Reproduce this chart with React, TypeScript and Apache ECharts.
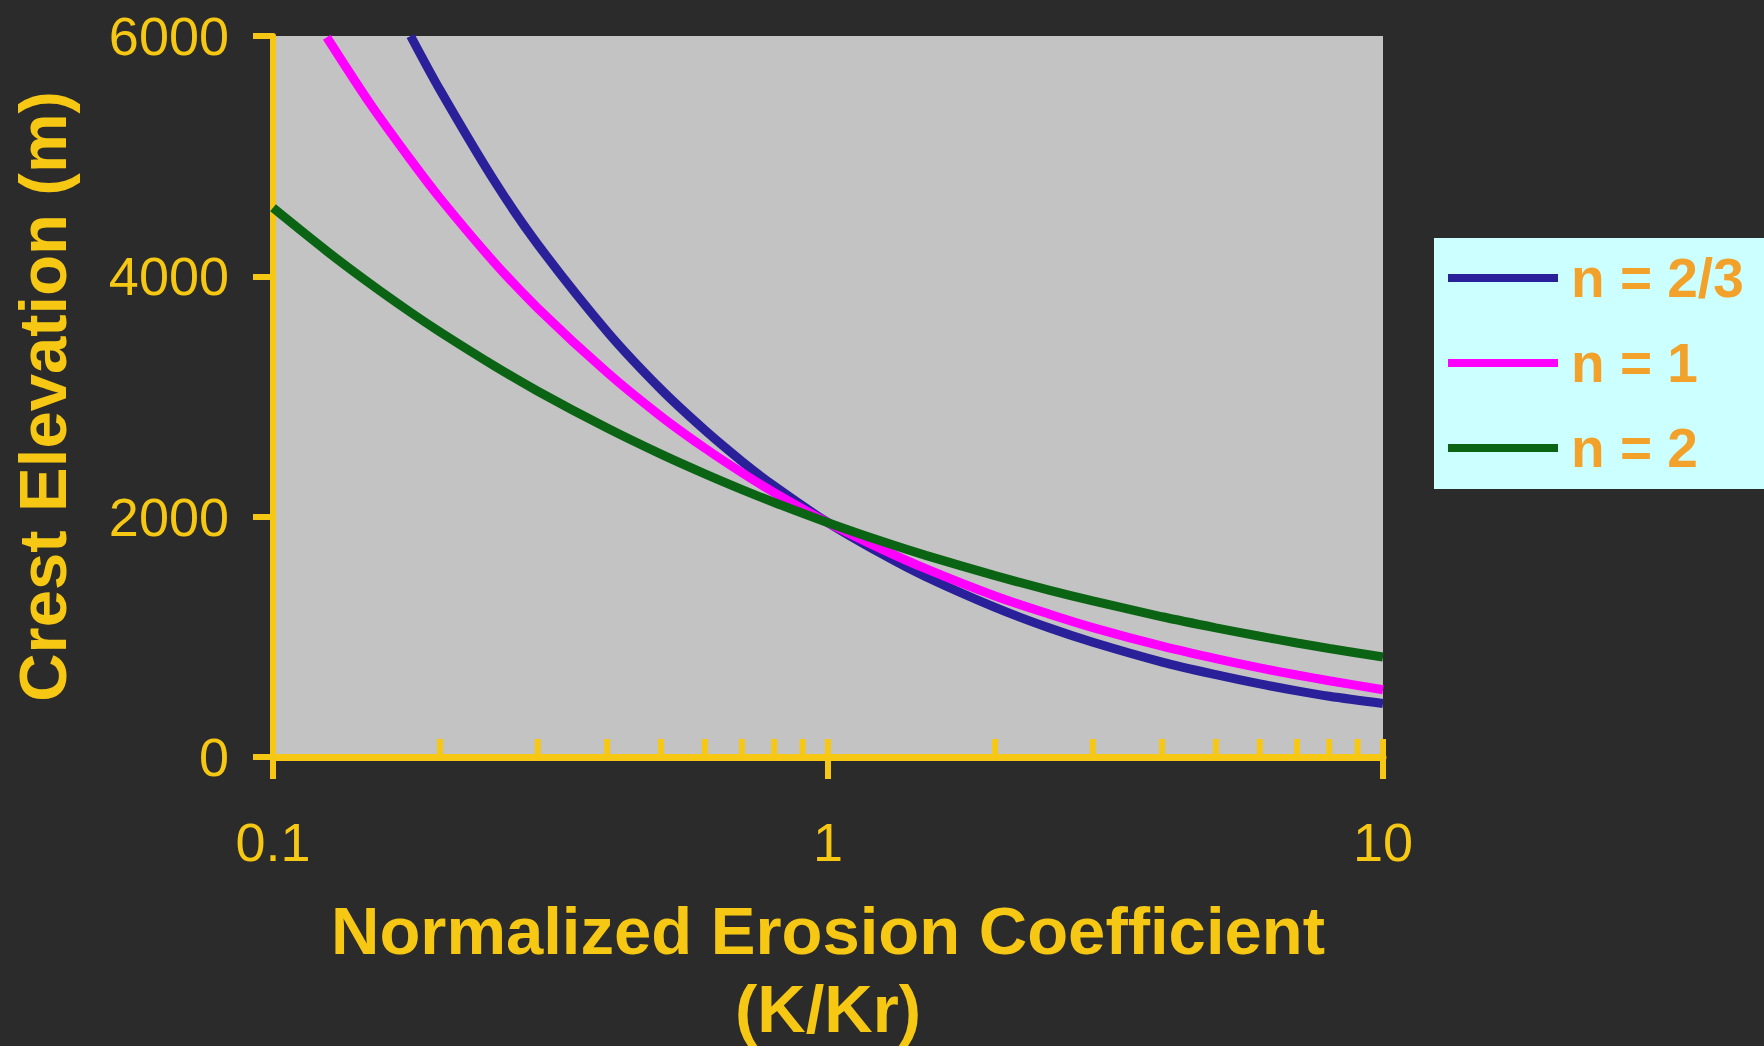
import React, { useEffect, useRef } from "react";
import * as echarts from "echarts";

// Normalized erosion coefficient (K/Kr), shared by all curves
const xValues = [0.1, 0.125, 0.15, 0.177, 0.2, 0.25, 0.3, 0.4, 0.5, 0.6, 0.7, 0.8, 1, 1.25, 1.5, 2, 2.5, 3, 4, 5, 6, 7, 8, 10];

// Crest elevation (m) for each stream-power exponent n
const elevN23 = [null, null, null, 6000, 5550, 4800, 4265, 3540, 3060, 2720, 2460, 2255, 1950, 1690, 1500, 1245, 1075, 955, 790, 685, 608, 550, 505, 445];
const elevN1 = [null, 5990, 5430, 4970, 4650, 4120, 3735, 3200, 2835, 2570, 2365, 2200, 1950, 1730, 1567, 1340, 1190, 1077, 922, 818, 741, 682, 635, 560];
const elevN2 = [4570, 4210, 3935, 3700, 3537, 3257, 3044, 2737, 2520, 2356, 2225, 2118, 1950, 1795, 1678, 1509, 1389, 1299, 1167, 1075, 1005, 949, 903, 832];

const seriesNames = ["n = 2/3", "n = 1", "n = 2"];

// Log-axis tick positions
const xMajorTicks = [0.1, 1, 10];
const xMinorTicks = [0.2, 0.3, 0.4, 0.5, 0.6, 0.7, 0.8, 0.9, 2, 3, 4, 5, 6, 7, 8, 9];

const YELLOW = "#f6c814";
const ORANGE = "#f2a22a";
const FONT = "'Liberation Sans', Arial, sans-serif";

const pairs = (ys: (number | null)[]) => xValues.map((x, i) => [x, ys[i]]);

export default function App() {
  const ref = useRef<HTMLDivElement>(null);

  useEffect(() => {
    if (!ref.current) return;
    const chart = echarts.init(ref.current, null, { renderer: "svg" });

    const lineSeries = (name: string, ys: (number | null)[], color: string) => ({
      type: "line",
      name,
      data: pairs(ys),
      smooth: 0.3,
      showSymbol: false,
      symbol: "none",
      connectNulls: false,
      clip: true,
      lineStyle: { color, width: 9 },
      itemStyle: { color },
    });

    chart.setOption({
      animation: false,
      backgroundColor: "#2b2b2b",
      grid: {
        left: 273,
        top: 36,
        width: 1110,
        height: 721,
        show: true,
        backgroundColor: "#c3c3c3",
        borderWidth: 0,
        containLabel: false,
        outerBoundsMode: "none",
      },
      legend: {
        orient: "vertical",
        left: 1434,
        top: 238,
        padding: [10, 24, 11, 14],
        backgroundColor: "#ccffff",
        icon: "rect",
        itemWidth: 110,
        itemHeight: 8,
        itemGap: 25,
        selectedMode: false,
        textStyle: {
          color: ORANGE,
          fontSize: 55,
          fontWeight: "bold",
          fontFamily: FONT,
          lineHeight: 60,
          padding: [0, 0, 0, 8],
        },
        data: seriesNames,
      },
      xAxis: {
        type: "log",
        logBase: 10,
        min: 0.1,
        max: 10,
        axisLine: { show: true, onZero: false, lineStyle: { color: YELLOW, width: 7 } },
        axisTick: { show: false },
        minorTick: { show: false },
        splitLine: { show: false },
        axisLabel: {
          color: YELLOW,
          fontSize: 54,
          fontFamily: FONT,
          margin: 58,
          formatter: (v: number) => String(+v.toPrecision(6)),
        },
        name: "Normalized Erosion Coefficient\n(K/Kr)",
        nameLocation: "middle",
        nameGap: 134,
        nameTextStyle: {
          color: YELLOW,
          fontSize: 67,
          fontWeight: "bold",
          fontFamily: FONT,
          lineHeight: 78,
        },
      },
      yAxis: {
        type: "value",
        min: 0,
        max: 6000,
        interval: 2000,
        axisLine: { show: true, lineStyle: { color: YELLOW, width: 6 } },
        axisTick: { show: true, inside: false, length: 20, lineStyle: { color: YELLOW, width: 6 } },
        splitLine: { show: false },
        axisLabel: {
          color: YELLOW,
          fontSize: 54,
          fontFamily: FONT,
          margin: 44,
          formatter: (v: number) => String(v),
        },
        name: "Crest Elevation (m)",
        nameLocation: "middle",
        nameGap: 197,
        nameTextStyle: {
          color: YELLOW,
          fontSize: 67,
          fontWeight: "bold",
          fontFamily: FONT,
          lineHeight: 67,
        },
      },
      series: [
        lineSeries(seriesNames[0], elevN23, "#2a219a"),
        lineSeries(seriesNames[1], elevN1, "#ff00ff"),
        lineSeries(seriesNames[2], elevN2, "#0b6414"),
        {
          // decade ticks cross the axis, intermediate ticks sit inside it
          type: "custom",
          name: "xticks",
          coordinateSystem: "cartesian2d",
          clip: false,
          silent: true,
          z: 5,
          encode: { x: 0, y: 1 },
          data: [
            ...xMajorTicks.map((v) => [v, 0, 1]),
            ...xMinorTicks.map((v) => [v, 0, 0]),
          ],
          renderItem: (_params: any, api: any) => {
            const p = api.coord([api.value(0), 0]);
            const major = api.value(2) === 1;
            const w = 6;
            return {
              type: "rect",
              shape: { x: p[0] - w / 2, y: p[1] - 18, width: w, height: major ? 40 : 18 },
              style: { fill: YELLOW },
            };
          },
        },
      ],
    });

    return () => chart.dispose();
  }, []);

  return (
    <div
      ref={ref}
      style={{ position: "fixed", left: 0, top: 0, width: 1764, height: 1046, background: "#2b2b2b" }}
    />
  );
}
